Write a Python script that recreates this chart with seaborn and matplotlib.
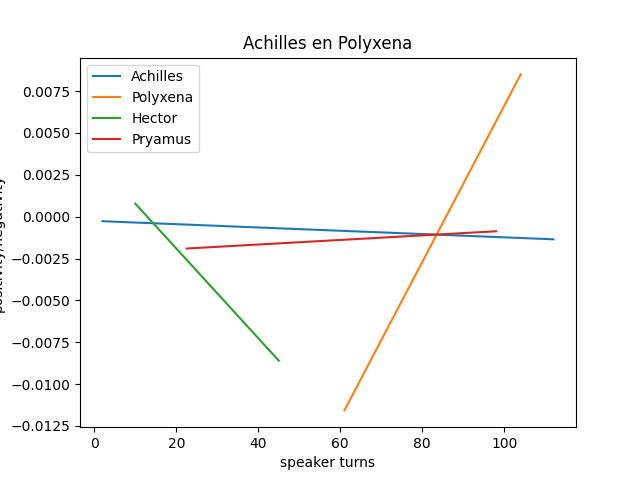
import matplotlib
matplotlib.use("Agg")
import matplotlib.pyplot as plt
import seaborn as sns
import pandas as pd

names = ["Achilles", "Polyxena", "Hector", "Pryamus"]
x_start = [2, 61, 10, 22.5]
x_end = [112, 104, 45, 98]
y_start = [-0.00027, -0.01157, 0.00078, -0.0019]
y_end = [-0.00135, 0.00850, -0.0086, -0.00087]
colors = ["#1f77b4", "#ff7f0e", "#2ca02c", "#d62728"]

fig, ax = plt.subplots(figsize=(6.4, 4.8), dpi=100)
for n, xs, xe, ys, ye, c in zip(names, x_start, x_end, y_start, y_end, colors):
    df = pd.DataFrame({"x": [xs, xe], "y": [ys, ye]})
    sns.lineplot(data=df, x="x", y="y", ax=ax, color=c, label=n)

ax.set_title("Achilles en Polyxena")
ax.set_xlabel("speaker turns")
ax.set_ylabel("positivity/negativity")
ax.legend(loc="upper left")
fig.savefig("out.png", dpi=100)
